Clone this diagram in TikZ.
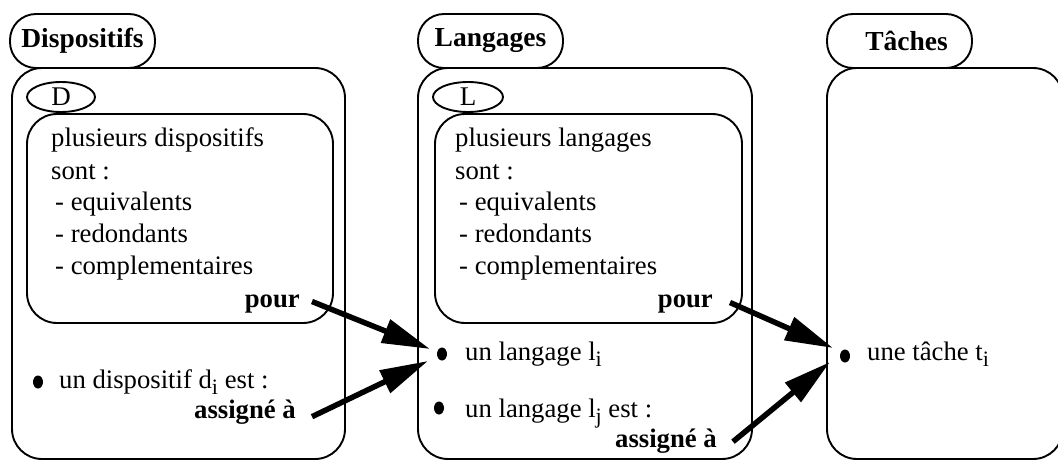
\documentclass[tikz,border=0pt]{standalone}
\usepackage{fontspec}
\setmainfont{Liberation Serif}
\usetikzlibrary{arrows.meta,shapes.geometric}
\newcommand\mysub[1]{\raisebox{-6.5pt}{\fontsize{22}{22}\selectfont #1}}
\begin{document}
\begin{tikzpicture}[x=1pt,y=-1pt,
  box/.style={draw,line width=1.9pt,rounded corners=30pt,inner sep=0pt},
  titlebox/.style={draw,line width=1.9pt,rounded corners=26pt,minimum width=145pt,minimum height=54pt,inner sep=0pt,fill=white,font=\fontsize{27.5}{27.5}\bfseries\selectfont},
  smalloval/.style={draw,ellipse,line width=1.9pt,minimum height=30pt,inner sep=0pt,fill=white,font=\fontsize{27}{27}\selectfont},
  txt/.style={anchor=base west,inner sep=0pt,font=\fontsize{26.7}{26.7}\selectfont},
  boldtxt/.style={anchor=base east,inner sep=0pt,font=\fontsize{26.7}{26.7}\bfseries\selectfont},
  dot/.style={fill,ellipse,minimum width=10pt,minimum height=13pt,inner sep=0pt},
  bigarrow/.style={line width=5.5pt,-{Triangle[length=48pt,width=24pt]}}
]
\useasboundingbox (0,0) rectangle (1058,460);

% outer boxes
\node[box,minimum width=333pt,minimum height=391pt] (bD) at (178.5,263.5) {};
\node[box,minimum width=334pt,minimum height=391pt] (bL) at (585,263.5) {};
\node[box,minimum width=236pt,minimum height=391pt] (bT) at (945,263.5) {};

% titles
\node[titlebox] (tD) at (82.5,41) {Dispositifs};
\node[titlebox] (tL) at (490.5,41) {Langages};
\node[titlebox] (tT) at (899.5,41) {\hspace*{14pt}Tâches};

% inner boxes
\node[box,minimum width=306pt,minimum height=209pt] (iD) at (180,218.5) {};
\node[box,minimum width=307pt,minimum height=209pt] (iL) at (588.5,218.5) {};

% small ovals
\node[smalloval,minimum width=68pt] (oD) at (61,97) {D};
\node[smalloval,minimum width=70pt] (oL) at (468,97) {L};

% left inner text
\node[txt] (d1) at (51,146) {plusieurs dispositifs};
\node[txt] (d2) at (51,179) {sont :};
\node[txt] (d3) at (55,210) {- equivalents};
\node[txt] (d4) at (55,242) {- redondants};
\node[txt] (d5) at (55,274) {- complementaires};
\node[boldtxt] (pourD) at (300,307) {pour};

% middle inner text
\node[txt] (l1) at (455,146) {plusieurs langages};
\node[txt] (l2) at (455,179) {sont :};
\node[txt] (l3) at (459,210) {- equivalents};
\node[txt] (l4) at (459,242) {- redondants};
\node[txt] (l5) at (459,274) {- complementaires};
\node[boldtxt] (pourL) at (713,307) {pour};

% left bottom
\node[dot] (bd) at (38,382) {};
\node[txt] (dtext) at (59,388) {un dispositif d\mysub{i} est :};
\node[boldtxt] (assD) at (296,418) {assigné à};

% middle bottom
\node[dot] (bli) at (442,354) {};
\node[txt] (litext) at (465,360) {un langage l\mysub{i}};
\node[dot] (blj) at (439,408) {};
\node[txt] (ljtext) at (465,417) {un langage l\mysub{j} est :};
\node[boldtxt] (assL) at (717,447) {assigné à};

% right
\node[dot] (bti) at (845,356) {};
\node[txt] (ttext) at (867,360) {une tâche t\mysub{i}};

% arrows
\draw[bigarrow] ([xshift=12pt,yshift=2pt]pourD.east) -- ([xshift=-12pt,yshift=5pt]bli.center);
\draw[bigarrow] ([xshift=16pt,yshift=-5pt]assD.east) -- ([xshift=-14pt,yshift=-7pt]bli.center);
\draw[bigarrow] ([xshift=17pt,yshift=1pt]pourL.east) -- ([xshift=-12pt,yshift=8pt]bti.center);
\draw[bigarrow] ([xshift=16pt,yshift=-1pt]assL.east) -- ([xshift=-15pt,yshift=-6pt]bti.center);
\end{tikzpicture}
\end{document}
